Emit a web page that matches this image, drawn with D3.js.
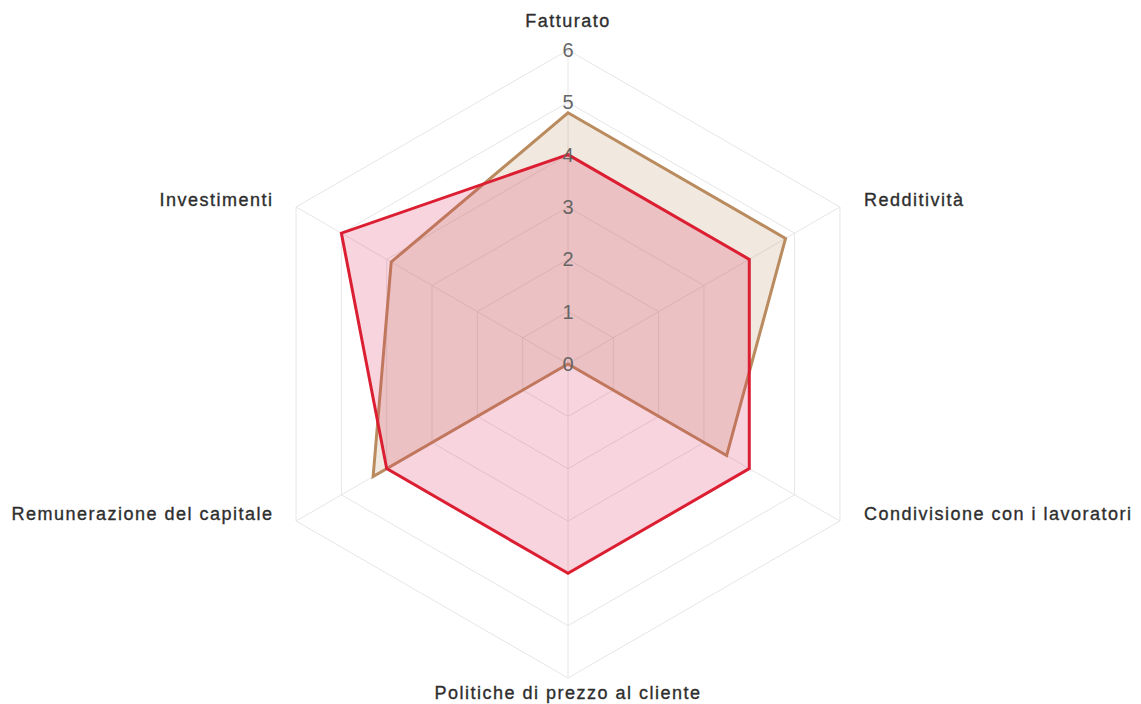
<!DOCTYPE html>
<html>
<head>
<meta charset="utf-8">
<script src="https://cdn.jsdelivr.net/npm/d3@7"></script>
<style>
  body { margin: 0; background: #fff; }
  svg { display: block; }
  .label { font-family: "Liberation Sans", Arial, sans-serif; font-size: 18px; letter-spacing: 1.5px;
           fill: #2e2e2e; stroke: #2e2e2e; stroke-width: 0.35px; }
  .tick { font-family: "Liberation Sans", Arial, sans-serif; font-size: 20px; fill: #666; }
</style>
</head>
<body>
<div id="chart"></div>
<script>
const axes = ["Fatturato", "Redditività", "Condivisione con i lavoratori",
              "Politiche di prezzo al cliente", "Remunerazione del capitale", "Investimenti"];
const ticks = [0, 1, 2, 3, 4, 5, 6];
const seriesBrown = [4.8, 4.8, 3.5, 0, 4.3, 3.9];
const seriesRed = [4, 4, 4, 4, 4, 5];

const width = 1141, height = 704;
const cx = 568, cy = 364, radius = 314;

const svg = d3.select("#chart")
    .append("svg")
    .attr("width", width)
    .attr("height", height);

const r = d3.scaleLinear().domain([0, 6]).range([0, radius]);
const angle = i => -Math.PI / 2 + i * 2 * Math.PI / axes.length;
const pt = (i, v) => [cx + r(v) * Math.cos(angle(i)), cy + r(v) * Math.sin(angle(i))];

// grid
const grid = svg.append("g");
ticks.slice(1).forEach(t => {
    grid.append("polygon")
        .attr("points", axes.map((a, i) => pt(i, t).join(",")).join(" "))
        .attr("fill", "none")
        .attr("stroke", "#e6e6e6")
        .attr("stroke-width", 1);
});
axes.forEach((a, i) => {
    const p = pt(i, 6);
    grid.append("line")
        .attr("x1", cx).attr("y1", cy)
        .attr("x2", p[0]).attr("y2", p[1])
        .attr("stroke", "#e6e6e6");
});

// series
const series = [
    { values: seriesBrown, stroke: "#b98b5e", fill: "rgba(185,139,94,0.2)" },
    { values: seriesRed, stroke: "#dc1e32", fill: "rgba(220,40,90,0.2)" }
];
series.forEach(s => {
    svg.append("polygon")
        .attr("points", s.values.map((v, i) => pt(i, v).join(",")).join(" "))
        .attr("fill", s.fill)
        .attr("stroke", s.stroke)
        .attr("stroke-width", 3)
        .attr("stroke-linejoin", "miter");
});

// tick labels
svg.append("g").selectAll("text")
    .data(ticks)
    .enter()
    .append("text")
    .attr("class", "tick")
    .attr("x", cx)
    .attr("y", d => cy - r(d))
    .attr("dy", "0.35em")
    .attr("text-anchor", "middle")
    .text(d => d);

// axis labels
const labelPad = 24;
svg.append("g").selectAll("text")
    .data(axes)
    .enter()
    .append("text")
    .attr("class", "label")
    .attr("x", (d, i) => {
        const c = Math.cos(angle(i));
        if (Math.abs(c) < 0.01) return cx;
        return cx + radius * c + (c > 0 ? labelPad : -labelPad + 1.5);
    })
    .attr("y", (d, i) => {
        const s = Math.sin(angle(i));
        if (s < -0.99) return cy - radius - 23;
        if (s > 0.99) return cy + radius + 21;
        return cy + radius * s - 7;
    })
    .attr("dy", (d, i) => Math.abs(Math.sin(angle(i))) > 0.99 ? 0 : "0.35em")
    .attr("text-anchor", (d, i) => {
        const c = Math.cos(angle(i));
        return Math.abs(c) < 0.01 ? "middle" : (c > 0 ? "start" : "end");
    })
    .text(d => d);
</script>
</body>
</html>
